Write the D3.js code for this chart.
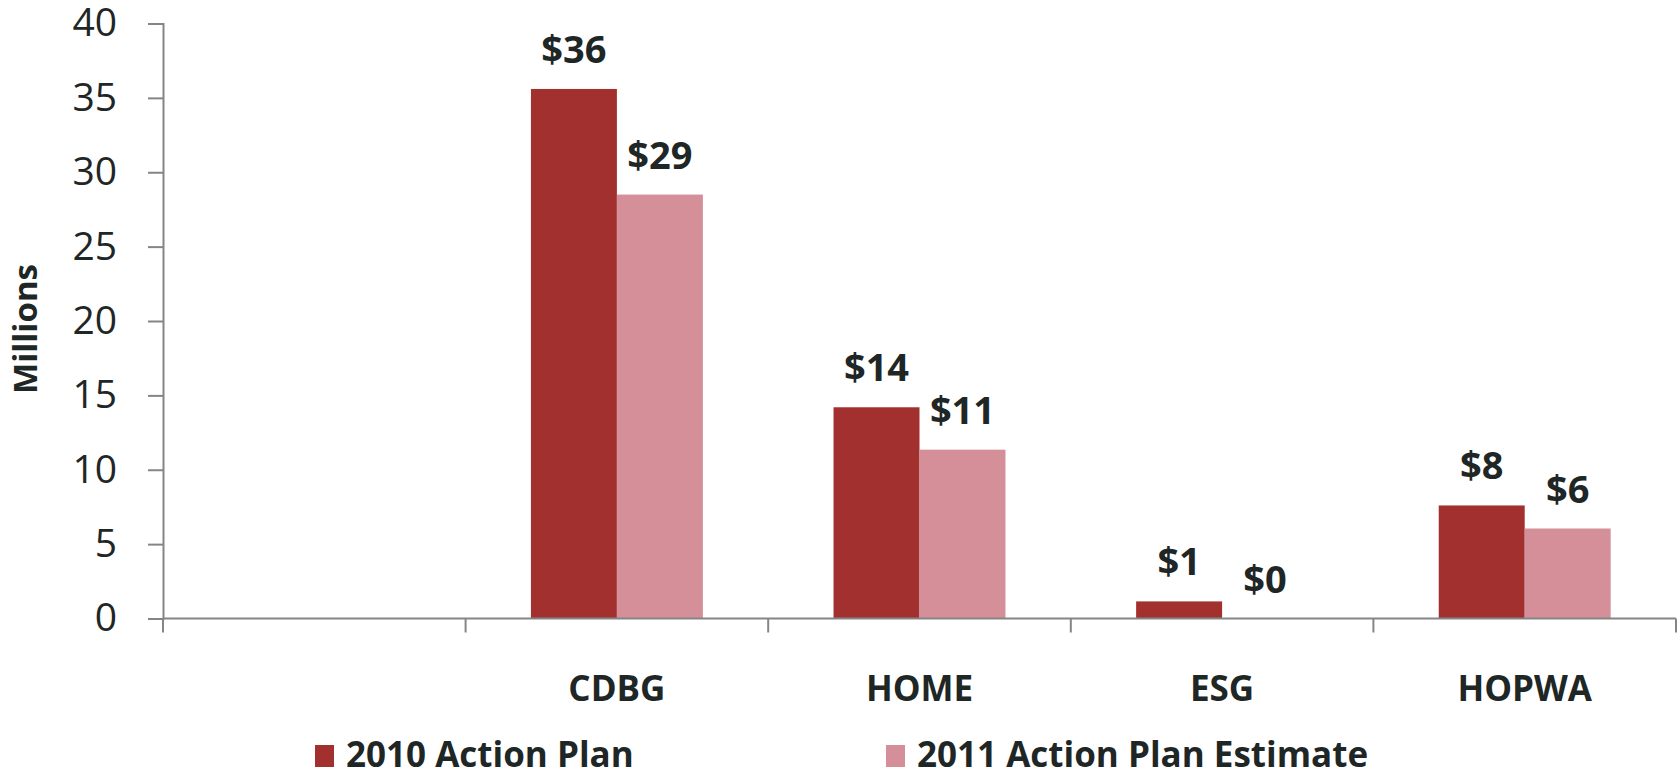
<!DOCTYPE html>
<html>
<head>
<meta charset="utf-8">
<script src="https://cdn.jsdelivr.net/npm/d3@7"></script>
<style>
  body { margin: 0; background: #fff; }
  text { font-family: "Open Sans", "DejaVu Sans", sans-serif; fill: #1f2626; }
</style>
</head>
<body>
<svg id="chart"></svg>
<script>
// data (millions)
const categories = ["", "CDBG", "HOME", "ESG", "HOPWA"];
const seriesNames = ["2010 Action Plan", "2011 Action Plan Estimate"];
const plan2010 = [null, 35.6, 14.2, 1.15, 7.6];
const plan2011 = [null, 28.5, 11.35, 0, 6.05];
const valueLabels2010 = ["", "$36", "$14", "$1", "$8"];
const valueLabels2011 = ["", "$29", "$11", "$0", "$6"];
const yTicks = [0, 5, 10, 15, 20, 25, 30, 35, 40];
const colors = ["#a2302f", "#d48f98"];

const width = 1678, height = 775;
const margin = { top: 23.5, left: 163, right: 2, bottom: 156.5 };
const innerW = width - margin.left - margin.right;
const innerH = height - margin.top - margin.bottom;

const svg = d3.select("#chart").attr("width", width).attr("height", height);
const g = svg.append("g").attr("transform", `translate(${margin.left},${margin.top})`);

const x = d3.scaleBand().domain(categories).range([0, innerW]).padding(0);
const x1 = d3.scaleBand().domain(seriesNames).range([0, x.bandwidth()]).paddingInner(0).paddingOuter(0.76);
const y = d3.scaleLinear().domain([0, 40]).range([innerH, 0]);

const rows = categories.map((c, i) => ({
  cat: c,
  vals: [
    { s: seriesNames[0], v: plan2010[i], label: valueLabels2010[i] },
    { s: seriesNames[1], v: plan2011[i], label: valueLabels2011[i] }
  ]
})).filter(d => d.cat !== "");

// y axis
const yAxis = g.append("g").attr("class", "y axis")
  .call(d3.axisLeft(y).tickValues(yTicks).tickSize(15).tickPadding(31));
yAxis.select(".domain").attr("stroke", "#858585").attr("stroke-width", 2);
yAxis.selectAll(".tick line").attr("stroke", "#858585").attr("stroke-width", 2);
yAxis.selectAll(".tick text").attr("font-size", 39).attr("font-family", "Open Sans").attr("fill", "#1f2626");

// bars
const groups = g.selectAll(".grp").data(rows).join("g").attr("class", "grp")
  .attr("transform", d => `translate(${x(d.cat)},0)`);

groups.selectAll("rect").data(d => d.vals).join("rect")
  .attr("x", d => x1(d.s))
  .attr("width", x1.bandwidth())
  .attr("y", d => y(d.v))
  .attr("height", d => innerH - y(d.v))
  .attr("fill", (d, i) => colors[i]);

groups.selectAll(".val").data(d => d.vals).join("text").attr("class", "val")
  .attr("x", d => x1(d.s) + x1.bandwidth() / 2)
  .attr("y", d => y(d.v) - 26)
  .attr("text-anchor", "middle")
  .attr("font-size", 38).attr("font-weight", "bold")
  .text(d => d.label);

// x axis line + boundary ticks
const xa = g.append("g").attr("class", "x axis").attr("transform", `translate(0,${innerH})`);
xa.append("line").attr("x1", 0).attr("x2", innerW).attr("stroke", "#858585").attr("stroke-width", 2);
const bounds = categories.map(c => x(c)).concat([innerW]);
xa.selectAll(".btick").data(bounds).join("line").attr("class", "btick")
  .attr("x1", d => d).attr("x2", d => d).attr("y1", 0).attr("y2", 14)
  .attr("stroke", "#858585").attr("stroke-width", 2);
xa.selectAll(".clabel").data(categories).join("text").attr("class", "clabel")
  .attr("x", d => x(d) + x.bandwidth() / 2)
  .attr("y", 82)
  .attr("text-anchor", "middle")
  .attr("font-size", 35).attr("font-weight", "bold")
  .text(d => d);

// y title
svg.append("text")
  .attr("transform", `translate(24,329) rotate(-90)`)
  .attr("text-anchor", "middle").attr("dominant-baseline", "central")
  .attr("font-size", 33).attr("font-weight", "bold")
  .text("Millions");

// legend
const legendX = [315, 886];
const leg = svg.selectAll(".leg").data(seriesNames).join("g").attr("class", "leg")
  .attr("transform", (d, i) => `translate(${legendX[i]},745)`);
leg.append("rect").attr("width", 19).attr("height", 22).attr("fill", (d, i) => colors[i]);
leg.append("text").attr("x", 31).attr("y", 22)
  .attr("font-size", 35).attr("font-weight", "bold")
  .text(d => d);
</script>
</body>
</html>
